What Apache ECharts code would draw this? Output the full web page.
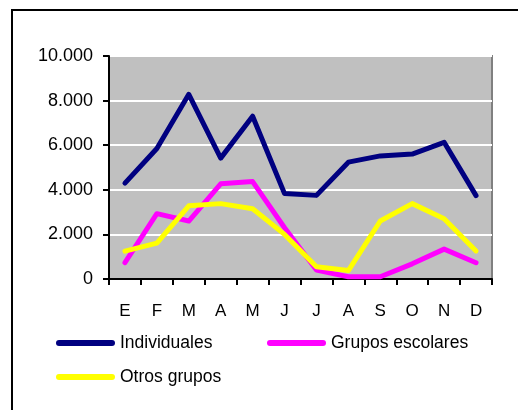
<!DOCTYPE html>
<html>
<head>
<meta charset="utf-8">
<script src="https://cdn.jsdelivr.net/npm/echarts@6/dist/echarts.min.js"></script>
<style>
  html, body { margin: 0; padding: 0; background: #fff; }
  #chart { width: 518px; height: 410px; }
</style>
</head>
<body>
<div id="chart"></div>
<script>
// Visitors per month, by type of visit
const months = ['E', 'F', 'M', 'A', 'M', 'J', 'J', 'A', 'S', 'O', 'N', 'D'];
const individuales = [4300, 5850, 8280, 5420, 7300, 3830, 3750, 5240, 5520, 5600, 6130, 3740];
const gruposEscolares = [730, 2930, 2600, 4270, 4370, 2300, 400, 100, 100, 680, 1340, 730];
const otrosGrupos = [1250, 1610, 3280, 3380, 3150, 2000, 550, 380, 2600, 3380, 2700, 1260];
const yTickLabels = ['0', '2.000', '4.000', '6.000', '8.000', '10.000'];

const FONT = '"Liberation Sans", Arial, sans-serif';
// legend swatch: a thick stroke with round ends
const PILL = 'path://M3,0 H56 A3,3 0 0 1 56,6 H3 A3,3 0 0 1 3,0 Z';
const chart = echarts.init(document.getElementById('chart'));

function legendAt(name, left, top) {
  return {
    data: [name], left: left, top: top,
    icon: PILL, itemWidth: 59, itemHeight: 6, itemGap: 5,
    textStyle: { fontFamily: FONT, fontSize: 17.5, color: '#000', padding: [2, 0, 0, 0] },
    selectedMode: false
  };
}

function line(name, data, color) {
  return {
    name: name, type: 'line', data: data, showSymbol: false, symbol: 'none',
    lineStyle: { color: color, width: 5, join: 'round', cap: 'round' },
    itemStyle: { color: color }, animation: false
  };
}

chart.setOption({
  animation: false,
  graphic: [{
    type: 'rect', shape: { x: 12, y: 10, width: 600, height: 500 },
    style: { fill: 'none', stroke: '#000', lineWidth: 2 }, z: -1
  }],
  grid: {
    left: 109, top: 56, right: 26, bottom: 131, show: true,
    backgroundColor: '#C0C0C0', borderColor: '#808080', borderWidth: 2
  },
  legend: [
    legendAt('Individuales', 51, 329),
    legendAt('Grupos escolares', 262, 329),
    legendAt('Otros grupos', 51, 363)
  ],
  xAxis: {
    type: 'category', data: months, boundaryGap: true,
    axisLine: { lineStyle: { color: '#000', width: 2 } },
    axisTick: { show: true, length: 6, inside: false, lineStyle: { color: '#000', width: 2 } },
    axisLabel: { fontFamily: FONT, fontSize: 17, color: '#000', margin: 24 },
    splitLine: { show: false }
  },
  yAxis: {
    type: 'value', min: 0, max: 10000, interval: 2000,
    axisLine: { show: true, lineStyle: { color: '#000', width: 2 } },
    axisTick: { show: true, length: 6, lineStyle: { color: '#000', width: 2 } },
    axisLabel: {
      fontFamily: FONT, fontSize: 18, color: '#000', margin: 16,
      formatter: function (v) { return yTickLabels[Math.round(v / 2000)]; }
    },
    splitLine: { show: true, lineStyle: { color: '#fff', width: 2 } }
  },
  series: [
    line('Individuales', individuales, '#000080'),
    line('Grupos escolares', gruposEscolares, '#FF00FF'),
    line('Otros grupos', otrosGrupos, '#FFFF00')
  ]
});
</script>
</body>
</html>
